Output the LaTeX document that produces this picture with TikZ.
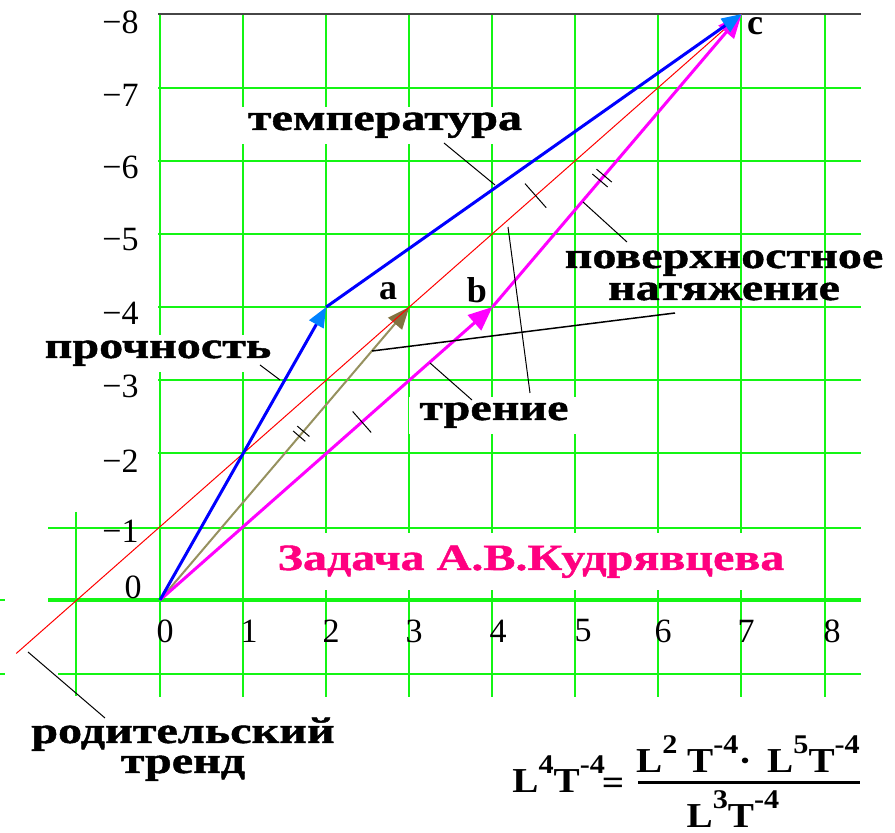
\documentclass[tikz,border=0pt]{standalone}
\usepackage{fontspec}
\setmainfont{Liberation Serif}
\newfontfamily\lab[FakeStretch=1.3,FakeBold=1.2]{Liberation Serif}
\newfontfamily\fmlfont[FakeStretch=1.12]{Liberation Serif}
\usetikzlibrary{arrows.meta,calc}
\definecolor{gridgreen}{RGB}{20,245,20}
\definecolor{vblue}{RGB}{0,0,255}
\definecolor{hblue}{RGB}{0,130,255}
\definecolor{vmag}{RGB}{255,0,255}
\definecolor{volive}{RGB}{150,145,95}
\definecolor{holive}{RGB}{130,115,65}
\definecolor{tpink}{RGB}{255,0,128}
\definecolor{topgrey}{RGB}{70,70,70}
\newcommand\mysup[1]{\raisebox{0.55em}{\fontsize{13.5}{12}\selectfont #1}}
\tikzset{
  gridline/.style={gridgreen, line width=1pt},
  topline/.style={topgrey, line width=1pt},
  lbl/.style={font={\lab\bfseries\fontsize{18.5}{16}\selectfont}, inner sep=0pt},
  boxlbl/.style={lbl, fill=white, inner xsep=5pt, inner ysep=3pt},
  ticklbl/.style={font={\fontsize{17}{17}\selectfont}, inner sep=0pt},
  ptlbl/.style={font={\bfseries\fontsize{18}{18}\selectfont}, inner sep=0pt},
  fml/.style={font={\fmlfont\bfseries\fontsize{17.5}{18}\selectfont}, inner sep=0pt},
  leader/.style={black, line width=0.5pt},
  tickmark/.style={black, line width=0.5pt},
  bluevec/.style={vblue, line width=1.5pt, -{Triangle[length=10pt,width=8pt,color=hblue,fill=hblue]}},
  magvec/.style={vmag, line width=1.5pt, -{Triangle[length=12pt,width=10pt,color=vmag,fill=vmag]}},
  olivevec/.style={volive, line width=1pt, -{Triangle[length=11pt,width=9pt,color=holive,fill=holive]}},
  trend/.style={red, line width=0.5pt}
}
\begin{document}
\begin{tikzpicture}[x=0.5pt,y=-0.5pt]
\useasboundingbox (0,0) rectangle (895,833);
% grid
\foreach \yy in {88,161,234,307,380,453} \draw[gridline] (158,\yy) -- (861,\yy);
\draw[gridline] (48,528) -- (861,528);
\draw[gridline, line width=2pt] (48,600) -- (861,600);
\draw[gridline] (58,674) -- (861,674);
\draw[gridline] (0,600) -- (5,600);
\draw[gridline] (0,674) -- (5,674);
\draw[gridline] (76,512) -- (76,696);
\foreach \xx in {160,243,326,409,492,575,658,741,825} \draw[gridline] (\xx,14) -- (\xx,697);
\draw[topline] (158,14) -- (861,14);
% tick labels
\foreach \v/\yy in {8/22,7/95,6/167,5/240,4/313,3/386,2/461,1/531}
  \node[ticklbl, anchor=east] (ty\v) at (139,\yy) {−\v};
\node[ticklbl, anchor=east] (ty0) at (142,587) {0};
\foreach \v/\xx in {0/165,1/249,2/331,3/414,4/498,5/583,6/663,7/746,8/832}
  \node[ticklbl] (tx\v) at (\xx,631) {\v};
% data coordinates
\begin{scope}[shift={(160,600)}, x=41.55pt, y=36.625pt]
  \coordinate (O) at (0,0);
  \coordinate (P) at (2,4);
  \coordinate (A) at (3,4);
  \coordinate (B) at (4,4);
  \coordinate (C) at (7,8);
  \coordinate (R0) at (-1.73,-0.73);
  \coordinate (t1) at (4.52,5.52);
  \coordinate (t2) at (2.43,2.43);
  \coordinate (t3) at (1.70,2.27);
  \coordinate (t4) at (5.32,5.76);
\end{scope}
% labels with white background
\node[boxlbl, anchor=base] (temp) at (385,130) {температура};
\node[boxlbl, anchor=base] (proch) at (158,358) {прочность};
\node[boxlbl, anchor=base] (tren) at (494,420) {трение};
\node[boxlbl, anchor=base, text=tpink, inner xsep=8pt, inner ysep=6pt] (zad) at (531,570) {Задача А.В.Кудрявцева};
% vectors
\draw[olivevec] (O) -- (A);
\draw[trend] (R0) -- (C);
\draw[magvec] (O) -- (B);
\draw[magvec] (B) -- (C);
\draw[bluevec] (O) -- (P);
\draw[bluevec] (P) -- (C);
% tick marks
\draw[tickmark] ($(t1)!8pt!90:(C)$) -- ($(t1)!8pt!-90:(C)$);
\draw[tickmark] ($(t2)!7pt!90:(B)$) -- ($(t2)!7pt!-90:(B)$);
\coordinate (t3a) at ($(t3)!1.6pt!(A)$);
\coordinate (t3b) at ($(t3)!-1.6pt!(A)$);
\draw[tickmark] ($(t3a)!4pt!90:(A)$) -- ($(t3a)!4pt!-90:(A)$);
\draw[tickmark] ($(t3b)!4pt!90:(A)$) -- ($(t3b)!4pt!-90:(A)$);
\coordinate (t4a) at ($(t4)!1.6pt!(C)$);
\coordinate (t4b) at ($(t4)!-1.6pt!(C)$);
\draw[tickmark] ($(t4a)!5pt!90:(C)$) -- ($(t4a)!5pt!-90:(C)$);
\draw[tickmark] ($(t4b)!5pt!90:(C)$) -- ($(t4b)!5pt!-90:(C)$);
% other labels
\node[lbl, anchor=base, align=center] (pov) at (724,300) {поверхностное\\натяжение};
\node[lbl, anchor=base, align=center, font={\lab\bfseries\fontsize{18.5}{15}\selectfont}] (rod) at (183,773) {родительский\\тренд};
\node[ptlbl, anchor=base] (la) at (388,300) {a};
\node[ptlbl, anchor=base] (lb) at (477,303) {b};
\node[ptlbl, anchor=base] (lc) at (755,35) {c};
% leaders
\coordinate (l1a) at (444,143); \coordinate (l1b) at (495,185);
\coordinate (l2a) at (583,202); \coordinate (l2b) at (627,242);
\coordinate (l3a) at (372,351); \coordinate (l3b) at (675,313);
\coordinate (l4a) at (508,227); \coordinate (l4b) at (530,393);
\coordinate (l5a) at (430,363); \coordinate (l5b) at (472,400);
\coordinate (l6a) at (260,365); \coordinate (l6b) at (280,380);
\coordinate (l7a) at (28,652);  \coordinate (l7b) at (105,718);
\draw[leader] (l1a) -- (l1b);
\draw[leader] (l2a) -- (l2b);
\draw[leader, line width=0.75pt] (l3a) -- (l3b);
\draw[leader] (l4a) -- (l4b);
\draw[leader] (l5a) -- (l5b);
\draw[leader] (l6a) -- (l6b);
\draw[leader] (l7a) -- (l7b);
% formula
\node[fml, anchor=base west] (lhs) at (512,793) {L\mysup{4}T\mysup{-4}};
\node[fml] (eq) at (613,786) {=};
\node[fml, anchor=base] (num) at (748,773) {L\mysup{2} T\mysup{-4}·\, L\mysup{5}T\mysup{-4}};
\node[fml, anchor=base] (den) at (733,828) {L\mysup{3}T\mysup{-4}};
\coordinate (barl) at (638,783); \coordinate (barr) at (860,783);
\draw[line width=1.5pt] (barl) -- (barr);
\end{tikzpicture}
\end{document}
